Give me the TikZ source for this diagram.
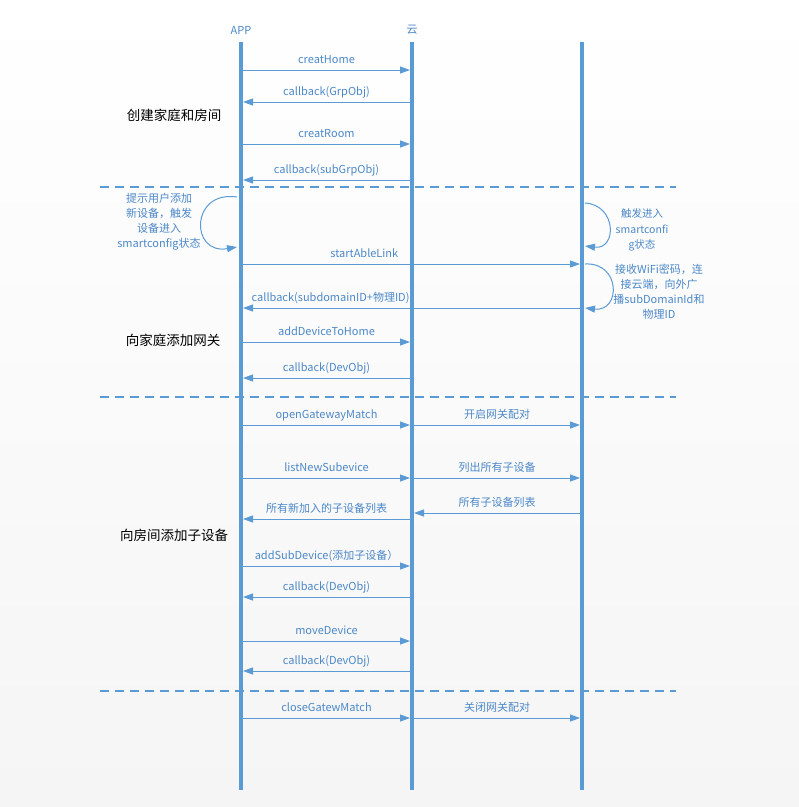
\documentclass[tikz,border=0pt]{standalone}
\usepackage{fontspec}
\setmainfont{Noto Sans CJK SC}
\usepackage{xcolor}
\usepackage{tikz}
\usetikzlibrary{arrows.meta}

\definecolor{lineblue}{HTML}{5B9BD5}
\definecolor{textblue}{HTML}{4C88C8}

\tikzset{
    lifeline/.style={lineblue, line width=4pt},
    msg/.style={lineblue, line width=1pt, -{Triangle[length=10pt,width=7pt]}},
    msglabel/.style={textblue, font=\fontsize{11}{13}\selectfont, anchor=base, yshift=7pt, inner sep=0pt},
    phase/.style={black, font=\fontsize{13.5}{16}\selectfont},
    sep/.style={lineblue, line width=1.5pt, dash pattern=on 9pt off 6pt},
    note/.style={textblue, font=\fontsize{11}{15}\selectfont, align=center, inner sep=0pt},
}

\begin{document}
\begin{tikzpicture}[x=1pt, y=-1pt]
    % Fondo
    \shade[top color=white, bottom color={rgb,255:red,245;green,245;blue,245}] (0,0) rectangle (799,807);
    \useasboundingbox (0,0) rectangle (799,807);

    % Lineas de vida
    \foreach \n/\x in {app/241, cloud/412, dev/582} {
        \coordinate (\n top) at (\x,42);
        \coordinate (\n bot) at (\x,790);
        \draw[lifeline] (\n top) -- (\n bot);
    }
    \node[textblue, font=\fontsize{11}{13}\selectfont] (apphead) at (241,30) {APP};
    \node[textblue, font=\fontsize{11}{13}\selectfont] (cloudhead) at (412,30) {云};

    % Separadores
    \foreach \k/\y in {1/187, 2/397, 3/691} {
        \coordinate (sep\k a) at (100,\y);
        \coordinate (sep\k b) at (676,\y);
        \draw[sep] (sep\k a) -- (sep\k b);
    }

    % APP -> nube
    \foreach \i/\y/\txt in {1/70/creatHome, 2/144/creatRoom, 3/342/addDeviceToHome, 4/425/openGatewayMatch,
                            5/478/listNewSubevice, 6/566/{addSubDevice(添加子设备）}, 7/641/moveDevice, 8/718/closeGatewMatch} {
        \coordinate (ac\i a) at (243,\y);
        \coordinate (ac\i b) at (410,\y);
        \draw[msg] (ac\i a) -- node[msglabel] {\txt} (ac\i b);
    }

    % nube -> APP
    \foreach \i/\y/\txt in {1/102/callback(GrpObj), 2/180/callback(subGrpObj), 3/378/callback(DevObj),
                            4/519/所有新加入的子设备列表, 5/597/callback(DevObj), 6/671/callback(DevObj)} {
        \coordinate (ca\i a) at (410,\y);
        \coordinate (ca\i b) at (243,\y);
        \draw[msg] (ca\i a) -- node[msglabel] {\txt} (ca\i b);
    }

    % nube -> dispositivo
    \foreach \i/\y/\txt in {1/425/开启网关配对, 2/478/列出所有子设备, 3/718/关闭网关配对} {
        \coordinate (cd\i a) at (414,\y);
        \coordinate (cd\i b) at (580,\y);
        \draw[msg] (cd\i a) -- node[msglabel] {\txt} (cd\i b);
    }

    % dispositivo -> nube
    \coordinate (dc1a) at (580,513);
    \coordinate (dc1b) at (414,513);
    \draw[msg] (dc1a) -- node[msglabel] {所有子设备列表} (dc1b);

    % APP <-> dispositivo
    \coordinate (ad1a) at (243,264);
    \coordinate (ad1b) at (580,264);
    \draw[msg] (ad1a) -- node[msglabel, pos=0.36] {startAbleLink} (ad1b);
    \coordinate (da1a) at (580,308);
    \coordinate (da1b) at (243,308);
    \draw[msg] (da1a) -- node[msglabel, pos=0.74] {callback(subdomainID+物理ID)} (da1b);

    % Bucles
    \coordinate (l1s) at (237,197);
    \coordinate (l1e) at (237,247);
    \draw[msg] (l1s) .. controls (190,190) and (190,255) .. (l1e);
    \node[note] (note1) at (159,222) {提示用户添加\\新设备，触发\\设备进入\\smartconfig状态};

    \coordinate (l2s) at (585,203);
    \coordinate (l2e) at (585,246);
    \draw[msg] (l2s) .. controls (617,205) and (617,250) .. (l2e);
    \node[note, font=\fontsize{10.5}{15.5}\selectfont] (note2) at (642,230) {触发进入\\smartconfi\\g状态};

    \coordinate (l3s) at (585,264);
    \coordinate (l3e) at (585,308);
    \draw[msg] (l3s) .. controls (621,262) and (621,312) .. (l3e);
    \node[note] (note3) at (659,292) {接收WiFi密码，连\\接云端，向外广\\播subDomainId和\\物理ID};

    % Fases
    \node[phase] (ph1) at (174,115) {创建家庭和房间};
    \node[phase] (ph2) at (173,340) {向家庭添加网关};
    \node[phase] (ph3) at (174,535) {向房间添加子设备};

\end{tikzpicture}
\end{document}
